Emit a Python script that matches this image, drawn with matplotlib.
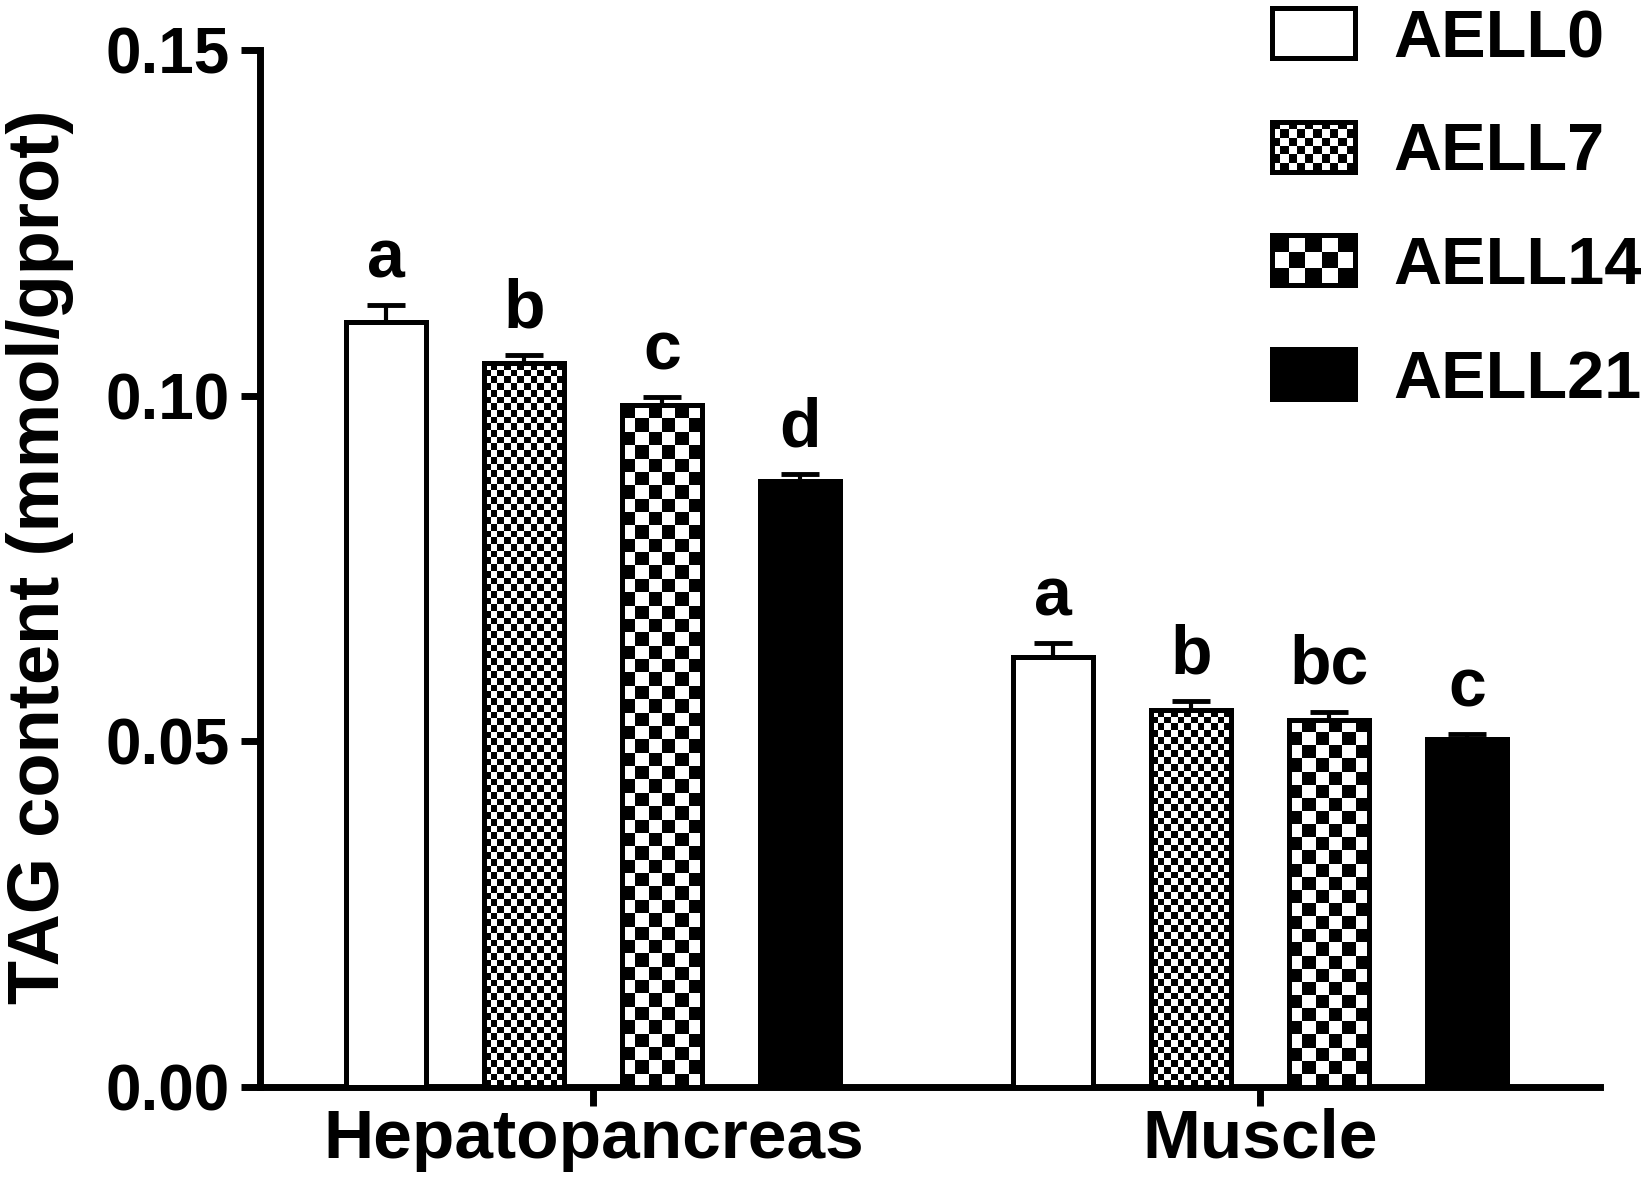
import numpy as np
import matplotlib.pyplot as plt

plt.rcParams['font.family'] = ['Liberation Sans', 'DejaVu Sans']
plt.rcParams['font.weight'] = 'bold'

# data
tissues = ['Hepatopancreas', 'Muscle']
groups = ['AELL0', 'AELL7', 'AELL14', 'AELL21']
hep_mean = [0.1106, 0.1047, 0.0986, 0.0876]
hep_sem = [0.0025, 0.0012, 0.0012, 0.0010]
mus_mean = [0.0622, 0.0545, 0.0531, 0.0503]
mus_sem = [0.0020, 0.0013, 0.0012, 0.0008]
hep_letters = ['a', 'b', 'c', 'd']
mus_letters = ['a', 'b', 'bc', 'c']

# fill style of each group
fills = ['white', 'fine', 'coarse', 'black']
CELL_PX = {'fine': 6.7, 'coarse': 13.3}
LEGEND_CELL_PX = {'fine': 8.5, 'coarse': 16.0}

FIG_W, FIG_H = 1650, 1197
EDGE_LW = 3.6


def checker(rows, cols):
    return (np.indices((rows, cols)).sum(axis=0) % 2).astype(float)


fig = plt.figure(figsize=(FIG_W / 100, FIG_H / 100), dpi=100)
ax = fig.add_axes([260 / FIG_W, 110 / FIG_H, 1340 / FIG_W, 1037 / FIG_H])
ax.set_xlim(-0.5, 1.51)
ax.set_ylim(0, 0.15)

x = np.arange(len(tissues))
pitch = 0.207
width = 0.12
means = np.array([hep_mean, mus_mean])
sems = np.array([hep_sem, mus_sem])
letters = np.array([hep_letters, mus_letters])

for i, g in enumerate(groups):
    xi = x + (i - 1.5) * pitch
    vals = means[:, i]
    errs = sems[:, i]
    face = 'black' if fills[i] == 'black' else 'white'
    bars = ax.bar(xi, vals, width, color=face, edgecolor='black',
                  linewidth=EDGE_LW, zorder=3)
    if fills[i] in CELL_PX:
        cell = CELL_PX[fills[i]]
        for b in bars:
            x0, y0 = b.get_x(), b.get_y()
            w, h = b.get_width(), b.get_height()
            p0 = ax.transData.transform((x0, y0))
            p1 = ax.transData.transform((x0 + w, y0 + h))
            cols = max(1, round((p1[0] - p0[0]) / cell))
            rows = max(1, round((p1[1] - p0[1]) / cell))
            ax.imshow(checker(rows, cols), cmap='gray', vmin=0, vmax=1,
                      extent=(x0, x0 + w, y0, y0 + h), origin='lower',
                      aspect='auto', interpolation='nearest', zorder=3.5)
        # outline again on top of the pattern
        ax.bar(xi, vals, width, fill=False, edgecolor='black',
               linewidth=EDGE_LW, zorder=4)
    ax.errorbar(xi, vals, yerr=[np.zeros_like(errs), errs], fmt='none',
                ecolor='black', elinewidth=3, capsize=14, capthick=3.5, zorder=2)
    for xx, v, e, lab in zip(xi, vals, errs, letters[:, i]):
        ax.text(xx, v + e + 0.004, lab, ha='center', va='baseline',
                fontsize=49, fontweight='bold')

ax.set_xlim(-0.5, 1.51)
ax.set_ylim(0, 0.15)

# axes styling
for s in ['top', 'right']:
    ax.spines[s].set_visible(False)
for s in ['left', 'bottom']:
    ax.spines[s].set_linewidth(5)
ax.set_yticks([0, 0.05, 0.10, 0.15])
ax.set_yticklabels(['0.00', '0.05', '0.10', '0.15'])
ax.set_xticks(x)
ax.set_xticklabels(tissues)
ax.tick_params(axis='y', direction='out', length=14, width=5, pad=8, labelsize=46)
ax.tick_params(axis='x', direction='out', length=14, width=5, pad=1, labelsize=50)

fig.text(40 / FIG_W, 1 - 557 / FIG_H, 'TAG content (mmol/gprot)', rotation=90,
         ha='center', va='center', fontsize=52, fontweight='bold')

# legend drawn by hand so the swatches can carry the checker fill
for i, g in enumerate(groups):
    cy = 33 + i * 113.5
    sw = fig.add_axes([1272 / FIG_W, 1 - (cy + 25) / FIG_H, 83 / FIG_W, 50 / FIG_H])
    if fills[i] in LEGEND_CELL_PX:
        cell = LEGEND_CELL_PX[fills[i]]
        sw.imshow(checker(max(1, round(50 / cell)), max(1, round(83 / cell))),
                  cmap='gray', vmin=0, vmax=1, aspect='auto', interpolation='nearest')
    else:
        sw.set_facecolor(fills[i])
    sw.set_xticks([])
    sw.set_yticks([])
    for s in sw.spines.values():
        s.set_linewidth(EDGE_LW)
    fig.text(1393 / FIG_W, 1 - (cy + 24) / FIG_H, g, fontsize=48,
             fontweight='bold', ha='left', va='baseline')

fig.savefig('out.png', dpi=100)
